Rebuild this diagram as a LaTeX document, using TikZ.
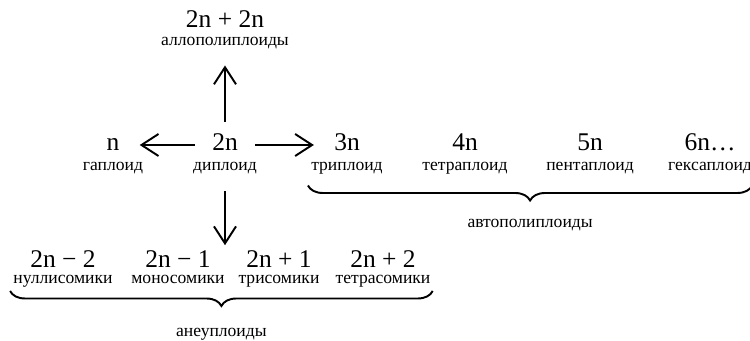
\documentclass[tikz,border=0pt]{standalone}
\usepackage{fontspec}
\setmainfont{Liberation Serif}
\usetikzlibrary{arrows.meta,positioning,calc,decorations.pathreplacing}
\tikzset{
  ploidy/.style={inner sep=0pt,font=\fontsize{14.5}{16}\selectfont,
    text height=0.68em,text depth=0pt},
  kind/.style={inner sep=0pt,font=\fontsize{10}{12}\selectfont,
    text height=0.5em,text depth=0.2em},
  arrow/.style={-{Straight Barb[length=3.4mm,width=4.4mm]},line width=1.1pt,
    shorten <=0.34cm,shorten >=0.4cm},
  brace/.style={decorate,decoration={brace,mirror,amplitude=0.3cm},line width=1.1pt}
}

\begin{document}
\begin{tikzpicture}[node distance=2cm,on grid]
  \useasboundingbox (0,0) rectangle (15,-6.82);
  \node[ploidy] (dip) at (4.5,-2.9) {2n};
  \node[ploidy,left=2.24cm of dip] (hap) {n};
  \node[ploidy,above=2.46cm of dip] (allo) {2n + 2n};
  \node[ploidy,right=2.44cm of dip] (tri) {3n};
  \node[ploidy,right=2.36cm of tri] (tetra) {4n};
  \node[ploidy,right=2.5cm of tetra] (penta) {5n};
  \node[ploidy,right=2.4cm of penta] (hexa) {6n…};
  \node[ploidy,below left=2.34cm and 0.94cm of dip] (mono) {2n − 1};
  \node[ploidy,left=2.3cm of mono] (nulli) {2n − 2};
  \node[ploidy,right=2.02cm of mono] (tris) {2n + 1};
  \node[ploidy,right=2.08cm of tris] (tetras) {2n + 2};
  % names under the numbers
  \node[kind,below=0.46cm of dip] (dipl) {диплоид};
  \node[kind,below=0.46cm of hap] (hapl) {гаплоид};
  \node[kind,below=0.42cm of allo] (allol) {аллополиплоиды};
  \node[kind,below=0.46cm of tri] (tril) {триплоид};
  \node[kind,below=0.46cm of tetra] (tetral) {тетраплоид};
  \node[kind,below=0.46cm of penta] (pental) {пентаплоид};
  \node[kind,below=0.46cm of hexa] (hexal) {гексаплоид};
  \node[kind,below=0.37cm of nulli] (nullil) {нуллисомики};
  \node[kind,below=0.37cm of mono] (monol) {моносомики};
  \node[kind,below=0.37cm of tris] (trisl) {трисомики};
  \node[kind,below=0.37cm of tetras] (tetrasl) {тетрасомики};
  % arrows
  \draw[arrow] (dip) -- (hap);
  \draw[arrow] (dip) -- (tri);
  \draw[arrow,shorten >=0.32cm] (dip) -- (allol);
  \draw[arrow,shorten >=0.21cm] (dipl) -- (dipl |- mono.north);
  % braces
  \coordinate (autoa) at ($(tril.south west)+(-0.06,-0.22)$);
  \coordinate (autob) at ($(hexal.south east)+(0,-0.22)$);
  \draw[brace] (autoa) -- (autob);
  \node[kind,below=0.66cm of $(autoa)!0.5!(autob)$] (auto) {автополиплоиды};
  \coordinate (aneua) at ($(nullil.south west)+(-0.06,-0.08)$);
  \coordinate (aneub) at ($(tetrasl.south east)+(0.04,-0.08)$);
  \draw[brace] (aneua) -- (aneub);
  \node[kind,below=0.72cm of $(aneua)!0.5!(aneub)$] (aneu) {анеуплоиды};
\end{tikzpicture}
\end{document}
